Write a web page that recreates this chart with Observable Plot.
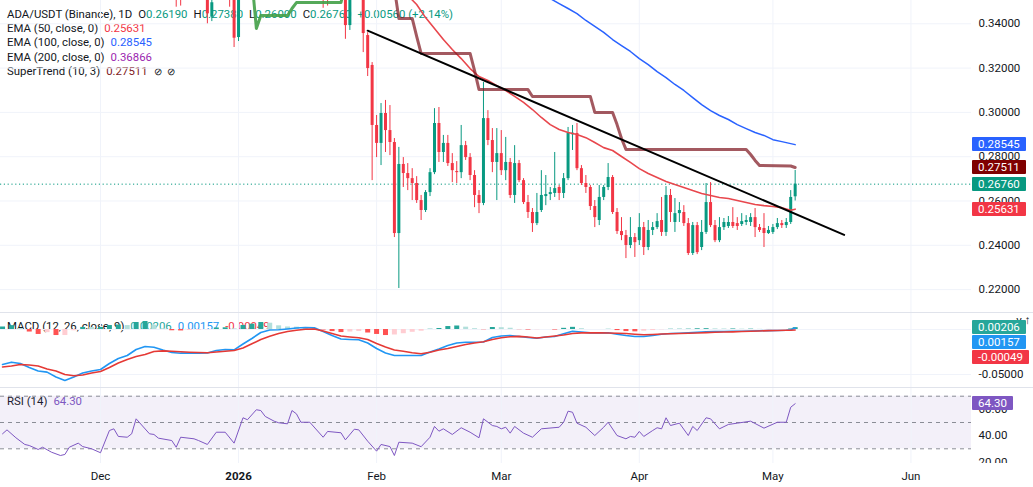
<!DOCTYPE html>
<html><head><meta charset="utf-8">
<script src="https://cdn.jsdelivr.net/npm/d3@7"></script>
<script src="https://cdn.jsdelivr.net/npm/@observablehq/plot@0.6"></script>
<style>
body{margin:0;background:#fff;font-family:Roboto,sans-serif;}
#wrap{position:relative;width:1033px;height:487px;overflow:hidden;background:#fff;}
.pane{position:absolute;left:0;width:1033px;z-index:2;}
.lg{position:absolute;font-size:11.4px;color:#131722;white-space:nowrap;line-height:14px;z-index:1;}
.lg .v{margin-left:6px;}
.lg .g{margin-left:6px;}
.box{position:absolute;left:972px;color:#fff;font-size:11.5px;line-height:14px;height:14px;padding:0 6px;z-index:3;border-radius:1px;}
.sep{position:absolute;left:0;width:1033px;height:1px;background:#e0e3eb;z-index:3;}
</style></head><body><div id="wrap"></div>
<script>
// ---------- data ----------
const candles = [
["2025-12-18",0.3650,0.3720,0.3475,0.3600],["2025-12-19",0.3640,0.3700,0.3480,0.3580],
["2025-12-25",0.3620,0.3700,0.3400,0.3445],["2025-12-26",0.3430,0.3600,0.3410,0.3495],
["2025-12-30",0.3650,0.3720,0.3475,0.3580],["2025-12-31",0.3650,0.3700,0.3293,0.3335],
["2026-01-01",0.3338,0.3650,0.3320,0.3600],["2026-01-20",0.3650,0.3720,0.3470,0.3600],
["2026-01-21",0.3640,0.3700,0.3480,0.3590],["2026-01-25",0.3600,0.3650,0.3330,0.3392],
["2026-01-26",0.3392,0.3600,0.3370,0.3550],
["2026-01-29",0.3530,0.3560,0.3270,0.3356],["2026-01-30",0.3347,0.3360,0.3162,0.3198],
["2026-01-31",0.3212,0.3225,0.2692,0.2941],["2026-02-01",0.2941,0.2986,0.2796,0.2860],
["2026-02-02",0.2860,0.3040,0.2760,0.2995],["2026-02-03",0.2995,0.3054,0.2819,0.2918],
["2026-02-04",0.2918,0.3031,0.2805,0.2864],["2026-02-05",0.2864,0.2882,0.2435,0.2453],
["2026-02-06",0.2453,0.2842,0.2205,0.2765],["2026-02-07",0.2765,0.2796,0.2661,0.2724],
["2026-02-08",0.2724,0.2769,0.2647,0.2701],["2026-02-09",0.2701,0.2746,0.2602,0.2679],
["2026-02-10",0.2679,0.2710,0.2589,0.2602],["2026-02-11",0.2602,0.2625,0.2512,0.2557],
["2026-02-12",0.2557,0.2647,0.2548,0.2638],["2026-02-13",0.2638,0.2746,0.2620,0.2728],
["2026-02-14",0.2728,0.3017,0.2719,0.2950],["2026-02-15",0.2950,0.3022,0.2774,0.2819],
["2026-02-16",0.2819,0.2896,0.2774,0.2860],["2026-02-17",0.2860,0.2896,0.2756,0.2769],
["2026-02-18",0.2769,0.2814,0.2683,0.2737],["2026-02-19",0.2733,0.2778,0.2679,0.2728],
["2026-02-20",0.2728,0.2941,0.2701,0.2850],["2026-02-21",0.2850,0.2869,0.2783,0.2796],
["2026-02-22",0.2796,0.2814,0.2692,0.2715],["2026-02-23",0.2715,0.2737,0.2570,0.2625],
["2026-02-24",0.2625,0.2647,0.2543,0.2589],["2026-02-25",0.2589,0.3135,0.2579,0.2972],
["2026-02-26",0.2972,0.3008,0.2850,0.2873],["2026-02-27",0.2873,0.2927,0.2728,0.2774],
["2026-02-28",0.2774,0.2927,0.2602,0.2814],["2026-03-01",0.2814,0.2918,0.2715,0.2737],
["2026-03-02",0.2737,0.2887,0.2692,0.2774],["2026-03-03",0.2774,0.2792,0.2611,0.2625],
["2026-03-04",0.2625,0.2850,0.2589,0.2769],["2026-03-05",0.2769,0.2783,0.2683,0.2692],
["2026-03-06",0.2692,0.2701,0.2584,0.2593],["2026-03-07",0.2593,0.2625,0.2521,0.2548],
["2026-03-08",0.2548,0.2566,0.2458,0.2498],["2026-03-09",0.2498,0.2634,0.2489,0.2548],
["2026-03-10",0.2557,0.2737,0.2548,0.2625],["2026-03-11",0.2620,0.2715,0.2579,0.2629],
["2026-03-12",0.2629,0.2661,0.2602,0.2638],["2026-03-13",0.2634,0.2819,0.2616,0.2656],
["2026-03-14",0.2661,0.2670,0.2602,0.2634],["2026-03-15",0.2634,0.2724,0.2611,0.2701],
["2026-03-16",0.2701,0.2932,0.2692,0.2905],["2026-03-17",0.2899,0.2941,0.2828,0.2906],
["2026-03-18",0.2905,0.2950,0.2737,0.2746],["2026-03-19",0.2746,0.2760,0.2670,0.2679],
["2026-03-20",0.2679,0.2715,0.2634,0.2661],["2026-03-21",0.2661,0.2670,0.2557,0.2575],
["2026-03-22",0.2575,0.2602,0.2480,0.2525],["2026-03-23",0.2512,0.2670,0.2489,0.2616],
["2026-03-24",0.2616,0.2670,0.2602,0.2661],["2026-03-25",0.2661,0.2769,0.2647,0.2706],
["2026-03-26",0.2706,0.2715,0.2539,0.2548],["2026-03-27",0.2548,0.2566,0.2449,0.2462],
["2026-03-28",0.2462,0.2525,0.2421,0.2444],["2026-03-29",0.2444,0.2467,0.2340,0.2399],
["2026-03-30",0.2399,0.2525,0.2385,0.2435],["2026-03-31",0.2435,0.2453,0.2345,0.2412],
["2026-04-01",0.2421,0.2543,0.2399,0.2480],["2026-04-02",0.2480,0.2503,0.2354,0.2390],
["2026-04-03",0.2390,0.2512,0.2376,0.2467],["2026-04-04",0.2467,0.2503,0.2444,0.2480],
["2026-04-05",0.2480,0.2543,0.2471,0.2507],["2026-04-06",0.2512,0.2616,0.2440,0.2458],
["2026-04-07",0.2458,0.2665,0.2440,0.2625],["2026-04-08",0.2625,0.2652,0.2503,0.2548],
["2026-04-09",0.2503,0.2611,0.2458,0.2543],["2026-04-10",0.2543,0.2593,0.2503,0.2557],
["2026-04-11",0.2548,0.2579,0.2485,0.2498],["2026-04-12",0.2498,0.2521,0.2354,0.2363],
["2026-04-13",0.2363,0.2503,0.2354,0.2489],["2026-04-14",0.2489,0.2503,0.2358,0.2367],
["2026-04-15",0.2390,0.2512,0.2376,0.2458],["2026-04-16",0.2458,0.2679,0.2449,0.2593],
["2026-04-17",0.2593,0.2683,0.2480,0.2489],["2026-04-18",0.2489,0.2512,0.2412,0.2421],
["2026-04-19",0.2421,0.2525,0.2412,0.2480],["2026-04-20",0.2480,0.2521,0.2467,0.2503],
["2026-04-21",0.2485,0.2530,0.2476,0.2503],["2026-04-22",0.2503,0.2570,0.2476,0.2485],
["2026-04-23",0.2498,0.2525,0.2467,0.2485],["2026-04-24",0.2494,0.2543,0.2485,0.2507],
["2026-04-25",0.2503,0.2534,0.2489,0.2512],["2026-04-26",0.2503,0.2543,0.2485,0.2525],
["2026-04-27",0.2525,0.2566,0.2435,0.2480],["2026-04-28",0.2480,0.2494,0.2458,0.2467],
["2026-04-29",0.2476,0.2543,0.2390,0.2453],["2026-04-30",0.2453,0.2485,0.2449,0.2467],
["2026-05-01",0.2458,0.2494,0.2449,0.2480],["2026-05-02",0.2480,0.2521,0.2471,0.2498],
["2026-05-03",0.2498,0.2512,0.2476,0.2489],["2026-05-04",0.2489,0.2521,0.2476,0.2503],
["2026-05-05",0.2503,0.2647,0.2494,0.2616],["2026-05-06",0.2619,0.2738,0.2600,0.2676]
];
const ema50 = [
["2026-02-06",0.3555],["2026-02-08",0.3528],["2026-02-10",0.3487],["2026-02-12",0.3428],["2026-02-14",0.3379],
["2026-02-16",0.3329],["2026-02-18",0.3284],["2026-02-20",0.3243],["2026-02-22",0.3198],["2026-02-24",0.3162],
["2026-02-26",0.3144],["2026-02-28",0.3121],["2026-03-02",0.3099],["2026-03-04",0.3072],["2026-03-06",0.3045],
["2026-03-08",0.3013],["2026-03-10",0.2977],["2026-03-12",0.2945],["2026-03-14",0.2923],["2026-03-16",0.2909],
["2026-03-18",0.2900],["2026-03-20",0.2886],["2026-03-22",0.2864],["2026-03-24",0.2841],["2026-03-26",0.2828],
["2026-03-28",0.2801],["2026-03-30",0.2774],["2026-04-01",0.2746],["2026-04-03",0.2724],["2026-04-05",0.2706],
["2026-04-07",0.2688],["2026-04-09",0.2674],["2026-04-11",0.2661],["2026-04-13",0.2647],["2026-04-15",0.2634],
["2026-04-17",0.2625],["2026-04-19",0.2616],["2026-04-21",0.2611],["2026-04-23",0.2602],["2026-04-25",0.2593],
["2026-04-27",0.2584],["2026-04-29",0.2579],["2026-05-01",0.2575],["2026-05-03",0.2570],["2026-05-05",0.2558],
["2026-05-06",0.25631]
];
const ema100 = [
["2026-03-10",0.3540],["2026-03-12",0.3514],["2026-03-14",0.3491],["2026-03-16",0.3469],["2026-03-18",0.3446],
["2026-03-20",0.3415],["2026-03-22",0.3388],["2026-03-24",0.3361],["2026-03-26",0.3329],["2026-03-28",0.3302],
["2026-03-30",0.3275],["2026-04-01",0.3243],["2026-04-03",0.3216],["2026-04-05",0.3184],["2026-04-07",0.3157],
["2026-04-09",0.3126],["2026-04-11",0.3099],["2026-04-13",0.3067],["2026-04-15",0.3035],["2026-04-17",0.3008],
["2026-04-19",0.2986],["2026-04-21",0.2968],["2026-04-23",0.2945],["2026-04-25",0.2927],["2026-04-27",0.2909],
["2026-04-29",0.2896],["2026-05-01",0.2877],["2026-05-03",0.2868],["2026-05-05",0.2859],["2026-05-06",0.28545]
];
const superUp = [
["2026-01-04",0.3600],["2026-01-05",0.3379],["2026-01-06",0.3437],["2026-01-12",0.3437],["2026-01-13",0.3469],
["2026-01-14",0.3496],["2026-01-24",0.3496],["2026-01-25",0.3580]
];
const superDown = [
["2026-01-29",0.3720],["2026-02-04",0.3620],["2026-02-05",0.3560],["2026-02-06",0.3424],["2026-02-09",0.3424],
["2026-02-10",0.3343],["2026-02-11",0.3266],["2026-02-22",0.3266],["2026-02-23",0.3189],["2026-02-24",0.3103],
["2026-03-07",0.3103],["2026-03-08",0.3072],["2026-03-21",0.3072],["2026-03-22",0.3000],["2026-03-26",0.3000],
["2026-03-27",0.2945],["2026-03-28",0.2882],["2026-03-29",0.2833],["2026-04-25",0.2833],["2026-04-26",0.2810],
["2026-04-27",0.2783],["2026-04-28",0.2760],["2026-05-05",0.2758],["2026-05-06",0.27511]
];
const trendLine = [["2026-01-30",0.3369],["2026-05-17",0.2447]];
const lastClose = 0.2676;
const priceTicks = [0.22,0.24,0.26,0.28,0.30,0.32,0.34];

const macdDates = ["2025-11-09","2025-11-11","2025-11-13","2025-11-15","2025-11-17","2025-11-19","2025-11-21","2025-11-23","2025-11-25","2025-11-27","2025-11-29",
"2025-12-01","2025-12-03","2025-12-05","2025-12-07","2025-12-09","2025-12-11","2025-12-13","2025-12-15","2025-12-17","2025-12-19","2025-12-21","2025-12-23","2025-12-25","2025-12-27","2025-12-29","2025-12-31",
"2026-01-02","2026-01-04","2026-01-06","2026-01-08","2026-01-10","2026-01-12","2026-01-14","2026-01-16","2026-01-18","2026-01-20","2026-01-22","2026-01-24","2026-01-26","2026-01-28","2026-01-30",
"2026-02-01","2026-02-03","2026-02-05","2026-02-07","2026-02-09","2026-02-11","2026-02-13","2026-02-15","2026-02-17","2026-02-19","2026-02-21","2026-02-23","2026-02-25","2026-02-27",
"2026-03-01","2026-03-03","2026-03-05","2026-03-07","2026-03-09","2026-03-11","2026-03-13","2026-03-15","2026-03-17","2026-03-19","2026-03-21","2026-03-23","2026-03-25","2026-03-27","2026-03-29","2026-03-31",
"2026-04-02","2026-04-04","2026-04-06","2026-04-08","2026-04-10","2026-04-12","2026-04-14","2026-04-16","2026-04-18","2026-04-20","2026-04-22","2026-04-24","2026-04-26","2026-04-28","2026-04-30",
"2026-05-02","2026-05-04","2026-05-05","2026-05-06"];
const macdLine = [-0.0389,-0.0363,-0.0378,-0.0422,-0.0461,-0.0474,-0.0528,-0.0567,-0.0528,-0.0483,-0.0461,
-0.0444,-0.0378,-0.0322,-0.0289,-0.0222,-0.0189,-0.0197,-0.0228,-0.0256,-0.0263,-0.0263,-0.0263,-0.0261,-0.0233,-0.0222,-0.0226,
-0.0161,-0.0100,-0.0033,-0.0006,-0.0003,0.0006,0.0017,0.0022,0.0019,-0.0022,-0.0067,-0.0106,-0.0111,-0.0114,-0.0150,
-0.0211,-0.0261,-0.0289,-0.0289,-0.0289,-0.0289,-0.0250,-0.0217,-0.0178,-0.0150,-0.0141,-0.0141,-0.0139,-0.0089,
-0.0072,-0.0067,-0.0078,-0.0089,-0.0097,-0.0083,-0.0078,-0.0048,-0.0020,-0.0028,-0.0037,-0.0037,-0.0037,-0.0053,-0.0067,-0.0078,
-0.0078,-0.0067,-0.0053,-0.0044,-0.0041,-0.0037,-0.0031,-0.0026,-0.0024,-0.0022,-0.0020,-0.0019,-0.0016,-0.0014,-0.0012,
-0.0011,-0.0009,-0.0002,0.00157];
const macdSignal = [-0.0417,-0.0406,-0.0389,-0.0394,-0.0406,-0.0439,-0.0461,-0.0500,-0.0514,-0.0506,-0.0483,
-0.0467,-0.0422,-0.0372,-0.0333,-0.0300,-0.0278,-0.0244,-0.0237,-0.0242,-0.0247,-0.0252,-0.0256,-0.0259,-0.0250,-0.0241,-0.0233,
-0.0206,-0.0159,-0.0111,-0.0076,-0.0044,-0.0022,-0.0009,0.0002,0.0006,-0.0017,-0.0044,-0.0072,-0.0083,-0.0092,-0.0111,
-0.0156,-0.0194,-0.0228,-0.0242,-0.0258,-0.0270,-0.0253,-0.0228,-0.0211,-0.0189,-0.0167,-0.0150,-0.0136,-0.0111,
-0.0092,-0.0081,-0.0076,-0.0083,-0.0094,-0.0083,-0.0072,-0.0061,-0.0044,-0.0037,-0.0037,-0.0037,-0.0039,-0.0041,-0.0044,-0.0052,
-0.0059,-0.0055,-0.0050,-0.0047,-0.0044,-0.0041,-0.0039,-0.0035,-0.0031,-0.0028,-0.0026,-0.0023,-0.0020,-0.0016,-0.0013,
-0.0011,-0.0009,-0.0008,-0.00049];
const macdHist = [0.0028,0.0043,0.0011,-0.0028,-0.0055,-0.0035,-0.0067,-0.0067,-0.0014,0.0023,0.0022,
0.0023,0.0044,0.0050,0.0044,0.0078,0.0089,0.0047,0.0009,-0.0014,-0.0016,-0.0011,-0.0007,-0.0002,0.0017,0.0019,0.0007,
0.0045,0.0059,0.0078,0.0070,0.0041,0.0028,0.0026,0.0020,0.0013,-0.0005,-0.0023,-0.0034,-0.0028,-0.0022,-0.0039,
-0.0055,-0.0067,-0.0061,-0.0047,-0.0031,-0.0019,0.0003,0.0011,0.0033,0.0039,0.0026,0.0009,-0.0003,0.0022,
0.0020,0.0014,-0.0002,-0.0006,-0.0003,0.0000,-0.0006,0.0013,0.0024,0.0009,0.0000,0.0000,0.0002,-0.0012,-0.0023,-0.0026,
-0.0019,-0.0012,-0.0003,0.0003,0.0003,0.0004,0.0008,0.0009,0.0007,0.0006,0.0006,0.0004,0.0004,0.0002,0.0001,
0.0000,0.0000,0.0006,0.00206];
const macdTicks = [0, -0.05];

const rsi = [
["2025-11-09",41.4],["2025-11-10",44.4],["2025-11-12",38.4],["2025-11-14",33.3],["2025-11-15",32.5],["2025-11-17",29.5],
["2025-11-18",31.2],["2025-11-20",27.4],["2025-11-22",24.9],["2025-11-23",25.7],["2025-11-24",31.2],["2025-11-26",34.3],
["2025-11-27",31.7],["2025-11-29",30.0],["2025-12-01",27.0],["2025-12-03",43.9],["2025-12-04",45.2],["2025-12-05",39.4],
["2025-12-07",38.8],["2025-12-08",41.4],["2025-12-09",52.8],["2025-12-12",41.4],["2025-12-13",40.9],["2025-12-14",38.1],
["2025-12-17",36.3],["2025-12-18",31.2],["2025-12-19",38.8],["2025-12-22",37.6],["2025-12-23",36.3],["2025-12-25",33.3],
["2025-12-27",42.6],["2025-12-29",42.6],["2025-12-31",34.3],["2026-01-02",53.6],["2026-01-03",52.1],["2026-01-05",59.7],
["2026-01-06",59.1],["2026-01-07",54.6],["2026-01-09",51.0],["2026-01-10",49.8],["2026-01-12",49.0],["2026-01-13",59.1],
["2026-01-14",56.6],["2026-01-15",50.2],["2026-01-17",50.2],["2026-01-20",38.8],["2026-01-21",43.2],["2026-01-24",42.2],
["2026-01-25",36.8],["2026-01-27",44.9],["2026-01-28",44.4],["2026-01-30",35.8],["2026-02-01",28.2],["2026-02-02",33.3],
["2026-02-04",31.7],["2026-02-05",24.9],["2026-02-06",35.0],["2026-02-09",34.3],["2026-02-11",31.6],["2026-02-13",38.8],
["2026-02-14",47.0],["2026-02-15",43.4],["2026-02-16",45.2],["2026-02-18",40.9],["2026-02-20",46.0],["2026-02-22",42.6],
["2026-02-24",38.4],["2026-02-25",52.8],["2026-02-27",47.7],["2026-02-28",47.0],["2026-03-01",45.2],["2026-03-02",46.4],
["2026-03-03",41.9],["2026-03-04",47.0],["2026-03-06",41.9],["2026-03-08",38.8],["2026-03-10",45.2],["2026-03-14",46.4],
["2026-03-15",50.2],["2026-03-16",58.6],["2026-03-17",57.8],["2026-03-18",49.5],["2026-03-20",46.4],["2026-03-22",40.1],
["2026-03-24",46.4],["2026-03-25",50.2],["2026-03-27",40.1],["2026-03-29",37.6],["2026-03-30",39.4],["2026-03-31",38.8],
["2026-04-01",43.2],["2026-04-02",39.4],["2026-04-04",43.9],["2026-04-05",46.0],["2026-04-06",45.2],["2026-04-07",53.6],
["2026-04-08",47.7],["2026-04-10",49.5],["2026-04-12",40.1],["2026-04-13",47.0],["2026-04-14",43.9],["2026-04-16",53.6],
["2026-04-17",52.8],["2026-04-19",45.2],["2026-04-21",48.5],["2026-04-23",49.5],["2026-04-26",51.0],["2026-04-29",45.7],
["2026-05-02",50.2],["2026-05-04",50.2],["2026-05-05",61.6],["2026-05-06",64.3]
];
const rsiLevels = [70, 50, 30];
const rsiBand = [{lo: 30, hi: 70}];
const rsiTicks = [60, 40, 20];
const months = [["2025-12-01","Dec",false],["2026-01-01","2026",true],["2026-02-01","Feb",false],["2026-03-01","Mar",false],
["2026-04-01","Apr",false],["2026-05-01","May",false],["2026-06-01","Jun",false]];

// ---------- rendering ----------
const GREEN = "#089981", RED = "#f23645", INK = "#131722", GRID = "#f0f3fa";
const parse = d3.utcParse("%Y-%m-%d");
const xDomain = [new Date(Date.UTC(2025,10,8,13)), new Date(Date.UTC(2026,5,14,14,24))];
const pts = a => a.map(([d, v]) => ({date: parse(d), v}));
const cdata = candles.map(([d,o,h,l,c]) => ({date: parse(d), o, h, l, c, col: c >= o ? GREEN : RED}));
const mdata = months.map(([d, label, bold]) => ({date: parse(d), label, bold}));
const hdata = macdDates.map((d, i) => {
  const v = macdHist[i], p = i ? macdHist[i-1] : v;
  const col = v >= 0 ? (v >= p ? "#26a69a" : "#b2dfdb") : (v >= p ? "#ffcdd2" : "#ff5252");
  return {date: parse(d), v, col};
});
const fmt5 = d => d.toFixed(5);

function pane(height, yDomain, marks) {
  return Plot.plot({
    width: 1033, height, marginLeft: 0, marginRight: 62, marginTop: 0, marginBottom: 0,
    style: {background: "transparent", fontFamily: "Roboto, sans-serif", fontSize: "11.5px", color: INK, overflow: "hidden"},
    x: {type: "utc", domain: xDomain, axis: null},
    y: {domain: yDomain, axis: null},
    color: {type: "identity"},
    marks
  });
}
const vgrid = Plot.ruleX(mdata, {x: "date", stroke: GRID});

const pricePlot = pane(312, [0.20966, 0.35052], [
  Plot.ruleY(priceTicks, {stroke: GRID}),
  vgrid,
  Plot.axisY(priceTicks, {anchor: "right", tickSize: 0, tickPadding: 7, tickFormat: fmt5, color: INK}),
  Plot.ruleY([lastClose], {stroke: GREEN, strokeDasharray: "1.2,2.6", strokeWidth: 1}),
  Plot.ruleX(cdata, {x: "date", y1: "l", y2: "h", stroke: "col", strokeWidth: 1}),
  Plot.ruleX(cdata, {x: "date", y1: "o", y2: "c", stroke: "col", strokeWidth: 3}),
  Plot.line(pts(ema100), {x: "date", y: "v", stroke: "#2962ff", strokeWidth: 1.5}),
  Plot.line(pts(ema50), {x: "date", y: "v", stroke: "#e8474d", strokeWidth: 1.6}),
  Plot.line(pts(superUp), {x: "date", y: "v", stroke: "#43a047", strokeWidth: 3, strokeOpacity: 0.9}),
  Plot.line(pts(superDown), {x: "date", y: "v", stroke: "#801922", strokeWidth: 3, strokeOpacity: 0.72}),
  Plot.line(pts(trendLine), {x: "date", y: "v", stroke: "#000", strokeWidth: 2})
]);

const macdPlot = pane(75, [-0.06444, 0.01889], [
  Plot.ruleY(macdTicks, {stroke: GRID}),
  vgrid,
  Plot.axisY(macdTicks, {anchor: "right", tickSize: 0, tickPadding: 7, tickFormat: fmt5, color: INK}),
  Plot.ruleX(hdata, {x: "date", y1: 0, y2: "v", stroke: "col", strokeWidth: 5}),
  Plot.line(macdDates.map((d, i) => ({date: parse(d), v: macdLine[i]})), {x: "date", y: "v", stroke: "#2196f3", strokeWidth: 1.6}),
  Plot.line(macdDates.map((d, i) => ({date: parse(d), v: macdSignal[i]})), {x: "date", y: "v", stroke: "#e53935", strokeWidth: 1.6})
]);

const rsiPlot = pane(76, [18.82, 76.62], [
  Plot.rect(rsiBand, {y1: "lo", y2: "hi", fill: "#7e57c2", fillOpacity: 0.09}),
  vgrid,
  Plot.ruleY(rsiLevels, {stroke: "#8a8d96", strokeDasharray: "4,4", strokeWidth: 1}),
  Plot.axisY(rsiTicks, {anchor: "right", tickSize: 0, tickPadding: 7, tickFormat: d => d.toFixed(2), color: INK}),
  Plot.line(pts(rsi), {x: "date", y: "v", stroke: "#7e57c2", strokeWidth: 1})
]);

const axisPlot = Plot.plot({
  width: 1033, height: 24, marginLeft: 0, marginRight: 62, marginTop: 0, marginBottom: 0,
  style: {background: "transparent", fontFamily: "Roboto, sans-serif", fontSize: "11.5px", color: INK},
  x: {type: "utc", domain: xDomain, axis: null},
  marks: [
    Plot.text(mdata.filter(d => !d.bold), {x: "date", text: "label", frameAnchor: "middle", dy: 1, fill: INK}),
    Plot.text(mdata.filter(d => d.bold), {x: "date", text: "label", frameAnchor: "middle", dy: 1, fill: INK, fontWeight: "bold"})
  ]
});

const wrap = document.getElementById("wrap");
function place(el, top) { el.classList.add("pane"); el.style.top = top + "px"; wrap.appendChild(el); }
// legends (under the candles)
function legend(top, html) { const d = document.createElement("div"); d.className = "lg"; d.style.left = "7px"; d.style.top = top + "px"; d.innerHTML = html; wrap.appendChild(d); return d; }
const gv = t => `<span style="color:${GREEN}">${t}</span>`;
legend(7, `ADA/USDT (Binance), 1D<span class="g">O${gv("0.26190")}</span><span class="g">H${gv("0.27380")}</span><span class="g">L${gv("0.26000")}</span><span class="g">C${gv("0.26760")}</span><span class="g">${gv("+0.00560 (+2.14%)")}</span>`);
legend(21, `EMA (50, close, 0)<span class="v" style="color:${RED}">0.25631</span>`);
legend(35.3, `EMA (100, close, 0)<span class="v" style="color:#2962ff">0.28545</span>`);
legend(49.7, `EMA (200, close, 0)<span class="v" style="color:#9c27b0">0.36866</span>`);
legend(64, `SuperTrend (10, 3)<span class="v" style="color:#801922">0.27511</span><span style="margin-left:6px;font-size:10px">⊘</span><span style="margin-left:5px;font-size:10px">⊘</span>`);
legend(319, `MACD (12, 26, close, 9)<span class="v" style="color:#26a69a">0.00206</span><span class="v" style="color:#2196f3">0.00157</span><span class="v" style="color:${RED}">-0.00049</span>`);
legend(394, `RSI (14)<span class="v" style="color:#7e57c2">64.30</span>`);

place(pricePlot, 0);
place(macdPlot, 312);
place(rsiPlot, 387);
place(axisPlot, 463);
[311.5, 387].forEach(t => { const s = document.createElement("div"); s.className = "sep"; s.style.top = t + "px"; wrap.appendChild(s); });

// price-scale labels
function boxes(plot, top, items) {
  const y = plot.scale("y");
  const rows = items.map(([v, txt, col]) => ({c: top + y.apply(v), txt, col})).sort((a, b) => a.c - b.c);
  rows.forEach((r, i) => { if (i && r.c < rows[i-1].c + 15) r.c = rows[i-1].c + 15; });
  rows.forEach(r => {
    const b = document.createElement("div"); b.className = "box";
    b.style.top = (r.c - 7) + "px"; b.style.background = r.col; b.textContent = r.txt; wrap.appendChild(b);
  });
}
boxes(pricePlot, 0, [[0.28545, "0.28545", "#2962ff"], [0.27511, "0.27511", "#7f0000"], [0.2676, "0.26760", GREEN], [0.25631, "0.25631", RED]]);
boxes(macdPlot, 312, [[0.00206, "0.00206", "#26a69a"], [0.00157, "0.00157", "#2196f3"], [-0.00049, "-0.00049", RED]]);
boxes(rsiPlot, 387, [[64.3, "64.30", "#7e57c2"]]);
</script></body></html>
